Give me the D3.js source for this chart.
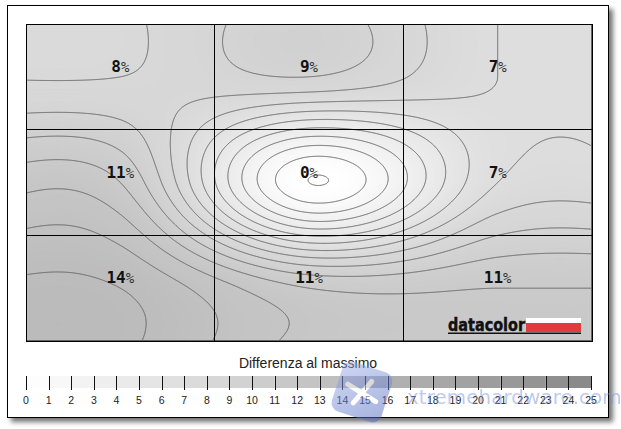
<!DOCTYPE html>
<html><head><meta charset="utf-8">
<script src="https://cdn.jsdelivr.net/npm/d3@7"></script>
<style>body{margin:0;background:#fff}svg{display:block}</style>
</head><body><svg id="c" width="621" height="429"></svg>
<script>
// ---- data ----
const rowNames = ["top", "middle", "bottom"];
const colNames = ["left", "center", "right"];
const topRow = [8, 9, 7];
const middleRow = [11, 0, 7];
const bottomRow = [14, 11, 11];
const values = [topRow, middleRow, bottomRow];
const legendTicks = d3.range(0, 26);
const legendTitle = "Differenza al massimo";
const contourLevels = d3.range(0, 26);
const logoText = "datacolor";
const watermarkText = "xtremehardware.com";

// ---- layout ----
const svg = d3.select("#c");
const PX0 = 26, PX1 = 592, PY0 = 24, PY1 = 341;
const x = d3.scaleLinear().domain([0, 3]).range([PX0, PX1]);
const y = d3.scaleLinear().domain([0, 3]).range([PY0, PY1]);
const lx = d3.scaleLinear().domain([0, 25]).range([26, 591]);
const color = d3.scaleLinear().domain([0, 25]).range(["#ffffff", "#888888"]);

// defs
const defs = svg.append("defs");
const flt = defs.append("filter").attr("id", "sh").attr("x", "-5%").attr("y", "-5%").attr("width", "112%").attr("height", "115%");
flt.append("feDropShadow").attr("dx", 4).attr("dy", 4).attr("stdDeviation", 2.5).attr("flood-color", "#000").attr("flood-opacity", 0.55);
defs.append("clipPath").attr("id", "pc").append("rect")
  .attr("x", PX0).attr("y", PY0).attr("width", PX1 - PX0).attr("height", PY1 - PY0);
const wg = defs.append("linearGradient").attr("id", "wg").attr("x1", 0).attr("y1", 0).attr("x2", 1).attr("y2", 1);
wg.append("stop").attr("offset", 0).attr("stop-color", "#9fb0e8");
wg.append("stop").attr("offset", 1).attr("stop-color", "#4f68c0");

// frame
svg.append("rect").attr("x", 7.5).attr("y", 5.5).attr("width", 601).attr("height", 412)
  .attr("fill", "#fff").attr("stroke", "#000").attr("stroke-width", 1).attr("filter", "url(#sh)");

// ---- smooth field from the 3x3 values (Catmull-Rom, clamped edges) ----
function cr(p0, p1, p2, p3, t) {
  return 0.5 * (2 * p1 + (-p0 + p2) * t + (2 * p0 - 5 * p1 + 4 * p2 - p3) * t * t + (-p0 + 3 * p1 - 3 * p2 + p3) * t * t * t);
}
const cl = i => Math.max(0, Math.min(2, i));
function field(u, v) {
  const ku = u - 0.5, kv = v - 0.5;
  const iu = Math.floor(ku), iv = Math.floor(kv);
  const tu = ku - iu, tv = kv - iv;
  const rowsV = [];
  for (let j = -1; j <= 2; j++) {
    const r = values[cl(iv + j)];
    rowsV.push(cr(r[cl(iu - 1)], r[cl(iu)], r[cl(iu + 1)], r[cl(iu + 2)], tu));
  }
  return cr(rowsV[0], rowsV[1], rowsV[2], rowsV[3], tv);
}
const nx = PX1 - PX0, ny = PY1 - PY0;
const grid = new Float64Array(nx * ny);
for (let j = 0; j < ny; j++) for (let i = 0; i < nx; i++)
  grid[i + j * nx] = field((i + 0.5) / nx * 3, (j + 0.5) / ny * 3);
const gmin = d3.min(grid), gmax = d3.max(grid);

const proj = d3.geoTransform({ point(px, py) {
  this.stream.point(PX0 + px * (PX1 - PX0) / nx, PY0 + py * (PY1 - PY0) / ny);
}});
const path = d3.geoPath(proj);

const plot = svg.append("g").attr("clip-path", "url(#pc)");
plot.append("rect").attr("x", PX0).attr("y", PY0).attr("width", PX1 - PX0).attr("height", PY1 - PY0)
  .attr("fill", color(gmin));
const fineT = d3.range(Math.floor(gmin * 5) / 5, gmax, 0.2);
const fills = d3.contours().size([nx, ny]).thresholds(fineT)(grid);
plot.selectAll("path.f").data(fills).join("path").attr("class", "f")
  .attr("d", path).attr("fill", d => color(d.value + 0.1)).attr("stroke", d => color(d.value + 0.1)).attr("stroke-width", 0.6);
const lines = d3.contours().size([nx, ny]).thresholds(contourLevels)(grid);
plot.selectAll("path.l").data(lines).join("path").attr("class", "l")
  .attr("d", path).attr("fill", "none").attr("stroke", "#666").attr("stroke-width", 1);

// grid lines & border
const gg = svg.append("g").attr("stroke", "#000").attr("stroke-width", 1).attr("shape-rendering", "crispEdges");
[1, 2].forEach(k => {
  gg.append("line").attr("x1", x(k)).attr("x2", x(k)).attr("y1", PY0).attr("y2", PY1);
  gg.append("line").attr("x1", PX0).attr("x2", PX1).attr("y1", y(k)).attr("y2", y(k));
});
gg.append("rect").attr("x", PX0).attr("y", PY0).attr("width", PX1 - PX0).attr("height", PY1 - PY0).attr("fill", "none");

// value labels
const cells = [];
values.forEach((r, ri) => r.forEach((v, ci) => cells.push({ r: ri, c: ci, v })));
const lab = svg.append("g").selectAll("text").data(cells).join("text")
  .attr("x", d => x(d.c + 0.5)).attr("y", d => y(d.r + 0.5) - 5)
  .attr("text-anchor", "middle").attr("font-family", "'DejaVu Sans Mono', monospace")
  .attr("font-size", 16).attr("fill", "#111");
lab.append("tspan").attr("font-weight", "bold").text(d => d.v);
lab.append("tspan").attr("font-size", 14).attr("fill", "#333").text("%");

// datacolor logo
const lg = svg.append("g");
lg.append("rect").attr("x", 526).attr("y", 318).attr("width", 55).attr("height", 5).attr("fill", "#fff");
lg.append("rect").attr("x", 526).attr("y", 323).attr("width", 55).attr("height", 9).attr("fill", "#e23b3b");
lg.append("text").attr("x", 448).attr("y", 331).attr("font-family", "'DejaVu Sans', sans-serif")
  .attr("font-weight", "bold").attr("font-size", 18).attr("textLength", 77).attr("lengthAdjust", "spacingAndGlyphs")
  .attr("fill", "#111").attr("stroke", "#111").attr("stroke-width", 0.5).text(logoText);
lg.append("rect").attr("x", 448).attr("y", 332.5).attr("width", 133).attr("height", 1.5).attr("fill", "#111");

// legend
svg.append("text").attr("x", 308).attr("y", 368).attr("text-anchor", "middle")
  .attr("font-family", "'Liberation Sans', Arial, sans-serif").attr("font-size", 14).attr("fill", "#222").text(legendTitle);
const leg = svg.append("g");
leg.selectAll("rect").data(legendTicks.slice(0, -1)).join("rect")
  .attr("x", d => lx(d)).attr("y", 376).attr("width", d => lx(d + 1) - lx(d)).attr("height", 12)
  .attr("fill", d => color(d + 0.5));
leg.selectAll("line").data(legendTicks).join("line")
  .attr("x1", d => Math.round(lx(d)) + 0.5).attr("x2", d => Math.round(lx(d)) + 0.5)
  .attr("y1", 376).attr("y2", 390).attr("stroke", "#111").attr("stroke-width", 1);
leg.selectAll("text").data(legendTicks).join("text")
  .attr("x", d => lx(d)).attr("y", 404).attr("text-anchor", "middle")
  .attr("font-family", "'Liberation Sans', Arial, sans-serif").attr("font-size", 10.5).attr("fill", "#222")
  .text(d => d);

// watermark
const wm = svg.append("g").attr("opacity", 0.5);
wm.append("rect").attr("x", -26).attr("y", -26).attr("width", 52).attr("height", 52).attr("rx", 9)
  .attr("fill", "url(#wg)").attr("transform", "translate(362,392) rotate(18)");
wm.append("path").attr("d", "M-16,-3 L16,5 M-5,13 L6,-13").attr("stroke", "#fff").attr("stroke-width", 5)
  .attr("stroke-linecap", "round").attr("transform", "translate(362,392) rotate(18)");
wm.append("text").attr("x", 407).attr("y", 404).attr("font-family", "'DejaVu Sans', sans-serif")
  .attr("font-size", 20).attr("fill", "#7f95d8").text(watermarkText);
</script></body></html>
